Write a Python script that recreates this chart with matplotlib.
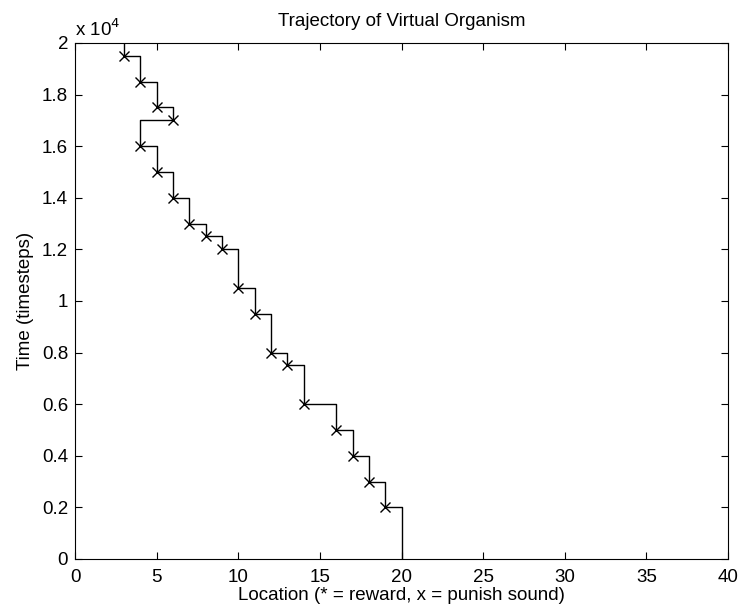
import numpy as np
import matplotlib
matplotlib.use("Agg")
import matplotlib.pyplot as plt
from matplotlib.ticker import FuncFormatter

plt.rcParams['font.family'] = ['Liberation Sans', 'DejaVu Sans']

# location after each move (x = punish sound), and the timestep of each move
locations = [20, 19, 18, 17, 16, 14, 13, 12, 11, 10, 9, 8, 7, 6, 5, 4, 6, 5, 4, 3]
move_times = [2000, 3000, 4000, 5000, 6000, 7500, 8000, 9500, 10500, 12000,
              12500, 13000, 14000, 15000, 16000, 17000, 17500, 18500, 19500]
t_start = 0
t_end = 20000

x_ticks = [0, 5, 10, 15, 20, 25, 30, 35, 40]
y_ticks = [0, 2000, 4000, 6000, 8000, 10000, 12000, 14000, 16000, 18000, 20000]

# build step path: stay at a location until the next move, then jump
path_x = [locations[0]]
path_y = [t_start]
for i, t in enumerate(move_times):
    path_x += [locations[i], locations[i + 1]]
    path_y += [t, t]
path_x.append(locations[-1])
path_y.append(t_end)

fs = 13.5
fig = plt.figure(figsize=(7.4, 6.13), dpi=100)
ax = fig.add_axes([0.1014, 0.0881, 0.8824, 0.8418])

ax.plot(path_x, path_y, color='black', linewidth=1.0)
ax.plot(locations[1:], move_times, linestyle='none', marker='x',
        color='black', markersize=7, markeredgewidth=1.0)

ax.set_xlim(0, 40)
ax.set_ylim(0, 20000)
ax.set_xticks(x_ticks)
ax.set_yticks(y_ticks)
ax.yaxis.set_major_formatter(FuncFormatter(lambda v, p: '%g' % (v / 1e4)))
ax.tick_params(direction='in', top=True, right=True, length=5, width=0.8,
               labelsize=fs)
ax.tick_params(axis='x', pad=7)
ax.tick_params(axis='y', pad=5)
for s in ax.spines.values():
    s.set_linewidth(0.8)

ax.text(0.0, 1.006, r'x 10$^4$', transform=ax.transAxes, ha='left', va='bottom',
        fontsize=fs)
ax.set_title('Trajectory of Virtual Organism', fontsize=fs, pad=12)
ax.set_xlabel('Location (* = reward, x = punish sound)', fontsize=fs, labelpad=1)
ax.set_ylabel('Time (timesteps)', fontsize=fs, labelpad=6)

fig.savefig('out.png', dpi=100)
